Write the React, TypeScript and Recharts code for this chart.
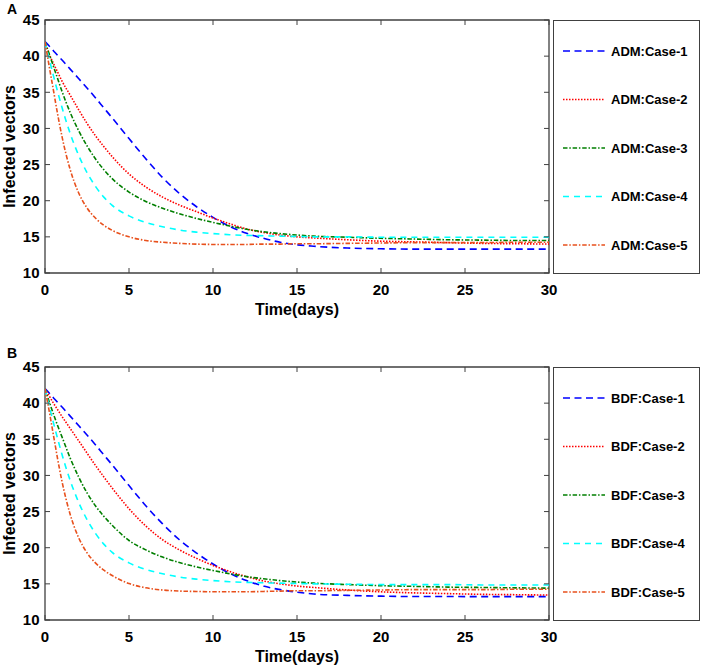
import React from "react";
import { LineChart, Line, XAxis, YAxis, Legend, ReferenceArea } from "recharts";

const TIME = [0, 0.25, 0.5, 0.75, 1, 1.5, 2, 2.5, 3, 3.5, 4, 5, 6, 7, 8, 9, 10, 11, 12, 13, 14, 15, 16, 18, 20, 22, 24, 26, 28, 30];
const X_TICKS = [0, 5, 10, 15, 20, 25, 30];
const Y_TICKS = [10, 15, 20, 25, 30, 35, 40, 45];

// Panel A (ADM)
const ADM_CASE1 = [42, 41.4, 40.75, 40.1, 39.5, 38.2, 36.9, 35.6, 34.25, 32.85, 31.45, 28.6, 25.8, 23.2, 21.0, 19.2, 17.7, 16.45, 15.5, 14.8, 14.25, 13.9, 13.7, 13.45, 13.35, 13.3, 13.3, 13.3, 13.3, 13.3];
const ADM_CASE2 = [42, 40.3, 39.0, 37.8, 36.6, 34.6, 32.6, 30.7, 29.0, 27.5, 26.1, 23.7, 21.9, 20.5, 19.4, 18.5, 17.6, 16.8, 16.1, 15.6, 15.25, 15.0, 14.85, 14.6, 14.4, 14.3, 14.2, 14.1, 14.05, 14.0];
const ADM_CASE3 = [42, 40.3, 38.6, 36.9, 35.2, 32.2, 29.7, 27.6, 25.8, 24.3, 23.05, 21.2, 19.9, 18.95, 18.2, 17.55, 17.0, 16.5, 16.05, 15.7, 15.45, 15.25, 15.1, 14.95, 14.8, 14.7, 14.6, 14.55, 14.5, 14.5];
const ADM_CASE4 = [42, 39.6, 37.3, 35.1, 33.0, 29.3, 26.3, 23.9, 22.0, 20.5, 19.35, 17.9, 17.0, 16.4, 15.95, 15.65, 15.45, 15.3, 15.2, 15.15, 15.1, 15.05, 15.0, 15.0, 14.95, 14.95, 14.95, 14.95, 14.95, 14.95];
const ADM_CASE5 = [42, 38.6, 35.3, 32.0, 29.0, 24.3, 21.1, 19.0, 17.6, 16.6, 15.9, 15.0, 14.5, 14.25, 14.1, 14.0, 13.95, 13.95, 13.95, 14.0, 14.0, 14.05, 14.05, 14.1, 14.15, 14.2, 14.2, 14.2, 14.25, 14.25];

// Panel B (BDF)
const BDF_CASE1 = [42, 41.4, 40.75, 40.1, 39.5, 38.2, 36.9, 35.6, 34.25, 32.85, 31.45, 28.6, 25.8, 23.3, 21.1, 19.3, 17.75, 16.45, 15.45, 14.7, 14.2, 13.85, 13.6, 13.4, 13.3, 13.25, 13.25, 13.23, 13.23, 13.23];
const BDF_CASE2 = [42, 41.0, 40.0, 39.1, 38.2, 36.5, 34.8, 33.1, 31.4, 29.8, 28.25, 25.4, 23.0, 21.1, 19.7, 18.55, 17.55, 16.7, 16.0, 15.4, 15.0, 14.7, 14.5, 14.15, 13.9, 13.75, 13.65, 13.55, 13.5, 13.45];
const BDF_CASE3 = [42, 40.2, 38.5, 36.9, 35.4, 32.4, 29.8, 27.6, 25.8, 24.35, 23.1, 21.0, 19.7, 18.7, 17.95, 17.35, 16.85, 16.4, 16.0, 15.7, 15.45, 15.25, 15.1, 14.9, 14.75, 14.65, 14.55, 14.5, 14.45, 14.4];
const BDF_CASE4 = [42, 39.6, 37.3, 35.1, 33.0, 29.3, 26.3, 23.9, 22.0, 20.5, 19.35, 17.9, 17.0, 16.4, 15.95, 15.65, 15.45, 15.3, 15.2, 15.15, 15.1, 15.05, 15.0, 14.95, 14.9, 14.9, 14.9, 14.85, 14.85, 14.85];
const BDF_CASE5 = [42, 38.9, 35.6, 32.3, 29.3, 24.6, 21.4, 19.3, 17.9, 16.9, 16.15, 15.05, 14.45, 14.15, 14.0, 13.95, 13.9, 13.9, 13.9, 13.95, 14.0, 14.05, 14.05, 14.1, 14.15, 14.2, 14.2, 14.2, 14.25, 14.25];

const ADM_NAMES = ["ADM:Case-1", "ADM:Case-2", "ADM:Case-3", "ADM:Case-4", "ADM:Case-5"];
const BDF_NAMES = ["BDF:Case-1", "BDF:Case-2", "BDF:Case-3", "BDF:Case-4", "BDF:Case-5"];

const COLORS = ["#0000FF", "#FF0000", "#007F00", "#00FFFF", "#E8501C"];
const DASHES = ["7 4.5", "1.5 1.5", "4.5 1.8 1.5 1.8", "6 5", "4.5 1.8 1.5 1.8"];

const FONT = "'Liberation Sans', Arial, Helvetica, sans-serif";
const AXIS_COLOR = "#404040";

// plot-box layout (chart coordinates)
const PLOT_TOP = 20;
const PLOT_BOTTOM = 273;
const PLOT_LEFT = 45;
const PLOT_RIGHT = 549;
const TICK_LEN = 5;

function buildRows(series: number[][]) {
  return TIME.map((t, i) => {
    const row: Record<string, number> = { t };
    series.forEach((s, k) => {
      row["c" + (k + 1)] = s[i];
    });
    return row;
  });
}

const ROWS_A = buildRows([ADM_CASE1, ADM_CASE2, ADM_CASE3, ADM_CASE4, ADM_CASE5]);
const ROWS_B = buildRows([BDF_CASE1, BDF_CASE2, BDF_CASE3, BDF_CASE4, BDF_CASE5]);

function XTick(props: any) {
  const { x, payload } = props;
  return (
    <g>
      <line x1={x} x2={x} y1={PLOT_BOTTOM} y2={PLOT_BOTTOM - TICK_LEN} stroke={AXIS_COLOR} strokeWidth={1} />
      <line x1={x} x2={x} y1={PLOT_TOP} y2={PLOT_TOP + TICK_LEN} stroke={AXIS_COLOR} strokeWidth={1} />
      <text
        x={x}
        y={PLOT_BOTTOM + 22}
        textAnchor="middle"
        fontFamily={FONT}
        fontWeight="bold"
        fontSize={15}
        fill="#000"
      >
        {payload.value}
      </text>
    </g>
  );
}

function YTick(props: any) {
  const { y, payload } = props;
  return (
    <g>
      <line x1={PLOT_LEFT} x2={PLOT_LEFT + TICK_LEN} y1={y} y2={y} stroke={AXIS_COLOR} strokeWidth={1} />
      <line x1={PLOT_RIGHT} x2={PLOT_RIGHT - TICK_LEN} y1={y} y2={y} stroke={AXIS_COLOR} strokeWidth={1} />
      <text
        x={PLOT_LEFT - 5.5}
        y={y + 5.3}
        textAnchor="end"
        fontFamily={FONT}
        fontWeight="bold"
        fontSize={15}
        fill="#000"
      >
        {payload.value}
      </text>
    </g>
  );
}

function LegendBox(props: any) {
  const payload = props.payload || [];
  return (
    <div
      style={{
        width: 147,
        height: 254,
        border: `1.3px solid ${AXIS_COLOR}`,
        boxSizing: "border-box",
        background: "#fff",
      }}
    >
      <svg width={145} height={252} style={{ display: "block" }}>
        {payload.map((entry: any, i: number) => {
          const y = 30 + i * 48.5;
          return (
            <g key={i}>
              <line
                x1={9}
                x2={51}
                y1={y}
                y2={y}
                stroke={entry.color}
                strokeWidth={1.6}
                strokeDasharray={DASHES[i]}
              />
              <text
                x={57}
                y={y + 4.6}
                fontFamily={FONT}
                fontWeight="bold"
                fontSize={13}
                fill="#000"
              >
                {entry.value}
              </text>
            </g>
          );
        })}
      </svg>
    </div>
  );
}

function Panel({ rows, names }: { rows: Record<string, number>[]; names: string[] }) {
  return (
    <LineChart
      width={702}
      height={330}
      data={rows}
      margin={{ top: PLOT_TOP, right: 702 - PLOT_RIGHT, bottom: 0, left: 0 }}
    >
      <XAxis
        xAxisId="b"
        dataKey="t"
        type="number"
        domain={[0, 30]}
        allowDataOverflow
        ticks={X_TICKS}
        height={57}
        tickLine={false}
        axisLine={false}
        tick={<XTick />}
        label={{
          value: "Time(days)",
          position: "insideBottom",
          offset: 15,
          style: { fontSize: 16, fontWeight: "bold", fill: "#000", fontFamily: FONT },
        }}
      />
      <YAxis
        yAxisId="l"
        type="number"
        domain={[10, 45]}
        allowDataOverflow
        ticks={Y_TICKS}
        width={PLOT_LEFT}
        tickLine={false}
        axisLine={false}
        tick={<YTick />}
        label={{
          value: "Infected vectors",
          angle: -90,
          position: "insideLeft",
          offset: 9.5,
          style: { textAnchor: "middle", fontSize: 16, fontWeight: "bold", fill: "#000", fontFamily: FONT },
        }}
      />
      <ReferenceArea
        xAxisId="b"
        yAxisId="l"
        x1={0}
        x2={30}
        y1={10}
        y2={45}
        fill="none"
        fillOpacity={0}
        stroke={AXIS_COLOR}
        strokeWidth={1.3}
        ifOverflow="visible"
      />
      <Legend
        layout="horizontal"
        verticalAlign="middle"
        align="center"
        content={<LegendBox />}
        wrapperStyle={{ left: 553, top: 20, width: 147, height: 254 }}
      />
      {names.map((name, k) => (
        <Line
          key={name}
          xAxisId="b"
          yAxisId="l"
          name={name}
          dataKey={"c" + (k + 1)}
          type="monotone"
          dot={false}
          activeDot={false}
          stroke={COLORS[k]}
          strokeWidth={1.6}
          strokeDasharray={DASHES[k]}
          isAnimationActive={false}
        />
      ))}
    </LineChart>
  );
}

export default function App() {
  return (
    <div
      style={{
        position: "absolute",
        left: 0,
        top: 0,
        width: 702,
        height: 669,
        overflow: "hidden",
        background: "#fff",
        fontFamily: FONT,
      }}
    >
      <div style={{ position: "absolute", left: 7, top: 1, fontSize: 14, fontWeight: "bold" }}>A</div>
      <div style={{ position: "absolute", left: 7, top: 345, fontSize: 14, fontWeight: "bold" }}>B</div>
      <div style={{ position: "absolute", left: 0, top: 0 }}>
        <Panel rows={ROWS_A} names={ADM_NAMES} />
      </div>
      <div style={{ position: "absolute", left: 0, top: 347 }}>
        <Panel rows={ROWS_B} names={BDF_NAMES} />
      </div>
    </div>
  );
}
